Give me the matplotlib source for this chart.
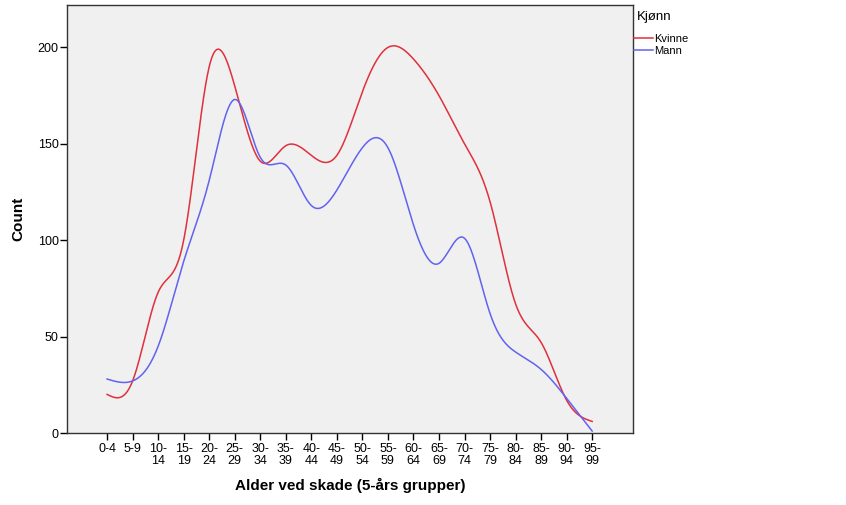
import numpy as np
import matplotlib
matplotlib.use("Agg")
import matplotlib.pyplot as plt

plt.rcParams['font.family'] = ['Liberation Sans', 'DejaVu Sans']

# Aldersgrupper og antall skader per kjønn
grupper = ['0-4', '5-9', '10-\n14', '15-\n19', '20-\n24', '25-\n29', '30-\n34', '35-\n39',
           '40-\n44', '45-\n49', '50-\n54', '55-\n59', '60-\n64', '65-\n69', '70-\n74',
           '75-\n79', '80-\n84', '85-\n89', '90-\n94', '95-\n99']
kvinne = [20, 27, 73, 100, 190, 180, 141, 149, 144, 144, 177, 200, 194, 175, 150, 120, 67, 47, 17, 6]
mann = [28, 27, 45, 89, 131, 173, 143, 139, 118, 126, 148, 148, 108, 88, 101, 62, 42, 33, 18, 1]


# Naturlig kubisk spline (ingen scipy tilgjengelig)
def spline(x, y, xs):
    x = np.asarray(x, float)
    y = np.asarray(y, float)
    n = len(x)
    h = np.diff(x)
    A = np.zeros((n, n))
    b = np.zeros(n)
    A[0, 0] = A[-1, -1] = 1
    for i in range(1, n - 1):
        A[i, i - 1] = h[i - 1]
        A[i, i] = 2 * (h[i - 1] + h[i])
        A[i, i + 1] = h[i]
        b[i] = 6 * ((y[i + 1] - y[i]) / h[i] - (y[i] - y[i - 1]) / h[i - 1])
    M = np.linalg.solve(A, b)
    idx = np.clip(np.searchsorted(x, xs) - 1, 0, n - 2)
    x0, x1 = x[idx], x[idx + 1]
    hh = x1 - x0
    t0, t1 = x1 - xs, xs - x0
    return (M[idx] * t0**3 / (6 * hh) + M[idx + 1] * t1**3 / (6 * hh)
            + (y[idx] / hh - M[idx] * hh / 6) * t0
            + (y[idx + 1] / hh - M[idx + 1] * hh / 6) * t1)


x = np.arange(len(grupper))
xs = np.linspace(0, len(grupper) - 1, 800)

fig = plt.figure(figsize=(8.46, 5.05), dpi=100)
ax = fig.add_axes([67 / 846, 72 / 505, 566 / 846, 428 / 505])
ax.set_facecolor('#f0f0f0')

l1, = ax.plot(xs, spline(x, kvinne, xs), color='#e0303c', lw=1.1, label='Kvinne')
l2, = ax.plot(xs, spline(x, mann, xs), color='#6262f0', lw=1.1, label='Mann')

ax.set_xlim(-1.57, 20.6)
ax.set_ylim(0, 222)
ax.set_xticks(x)
ax.set_xticklabels(grupper, fontsize=9, linespacing=1.0)
ax.set_yticks([0, 50, 100, 150, 200])
ax.tick_params(axis='y', labelsize=9, length=5, width=1, pad=1)
ax.tick_params(axis='x', length=5, width=1, pad=2)
for s in ax.spines.values():
    s.set_color('#333333')
    s.set_linewidth(1)

ax.set_xlabel('Alder ved skade (5-års grupper)', fontsize=11, fontweight='bold', labelpad=8)
ax.set_ylabel('Count', fontsize=11, fontweight='bold')
ax.yaxis.set_label_coords(-0.074, 0.5)

fig.text(637 / 846, 1 - 17 / 505, 'Kjønn', fontsize=9.5, va='center', ha='left')
fig.legend(handles=[l1, l2], loc='upper left',
           bbox_to_anchor=(634 / 846, 1 - 34 / 505), frameon=False,
           fontsize=8, handlelength=1.7, handletextpad=0.15,
           labelspacing=0.2, borderaxespad=0, borderpad=0)

fig.savefig('out.png', dpi=100)
